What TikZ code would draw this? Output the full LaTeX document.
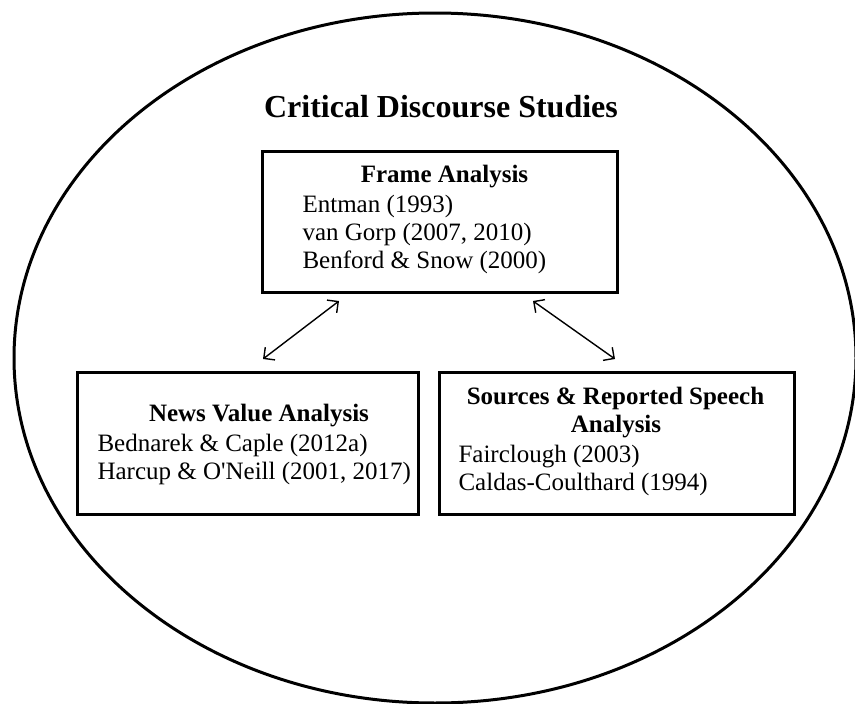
\documentclass[tikz,border=0pt]{standalone}
\usepackage{fontspec}
\setmainfont{Liberation Serif}
\usetikzlibrary{arrows.meta}

\begin{document}
\begin{tikzpicture}
        [x=1pt, y=-1pt,
        box/.style={draw, line width=3pt, inner sep=0pt, minimum height=142pt},
        head/.style={anchor=base, font=\fontsize{25}{28}\selectfont\bfseries},
        ref/.style={anchor=base west, font=\fontsize{25}{28}\selectfont},
        link/.style={line width=1.4pt, {Straight Barb[length=8pt,width=16pt]}-{Straight Barb[length=8pt,width=16pt]}}]

        \useasboundingbox (0,0) rectangle (855,704);

        % outer ellipse
        \draw[line width=3pt] (435,358) ellipse [x radius=421pt, y radius=345pt];

        % title
        \node[anchor=base, font=\fontsize{32}{36}\selectfont\bfseries] (title) at (441,117) {Critical Discourse Studies};

        % the three boxes
        \node[box, minimum width=355pt, minimum height=141pt] (frame) at (439.5,221.5) {};
        \node[box, minimum width=341pt] (news) at (247.5,443) {};
        \node[box, minimum width=355pt] (sources) at (616.5,443) {};

        % frame analysis
        \node[head] (framehead) at (444.5,182) {Frame Analysis};
        \node[ref] (entman) at (299,212) {Entman (1993)};
        \node[ref] (gorp) at (299,240) {van Gorp (2007, 2010)};
        \node[ref] (benford) at (299,268) {Benford \& Snow (2000)};

        % news value analysis
        \node[head] (newshead) at (259,421) {News Value Analysis};
        \node[ref] (bednarek) at (94,451) {Bednarek \& Caple (2012a)};
        \node[ref] (harcup) at (94,479) {Harcup \& O\textquotesingle Neill (2001, 2017)};

        % sources and reported speech
        \node[head] (sourceshead) at (615.5,404) {Sources \& Reported Speech};
        \node[head] (sourceshead2) at (616,432) {Analysis};
        \node[ref] (fairclough) at (455,462) {Fairclough (2003)};
        \node[ref] (caldas) at (455,490) {Caldas-Coulthard (1994)};

        % arrow ends
        \coordinate (fl) at (339,301);
        \coordinate (nl) at (263,359);
        \coordinate (fr) at (533,301);
        \coordinate (sr) at (615,359);

        % double arrows
        \draw[link] (fl) -- (nl);
        \draw[link] (fr) -- (sr);

\end{tikzpicture}
\end{document}
